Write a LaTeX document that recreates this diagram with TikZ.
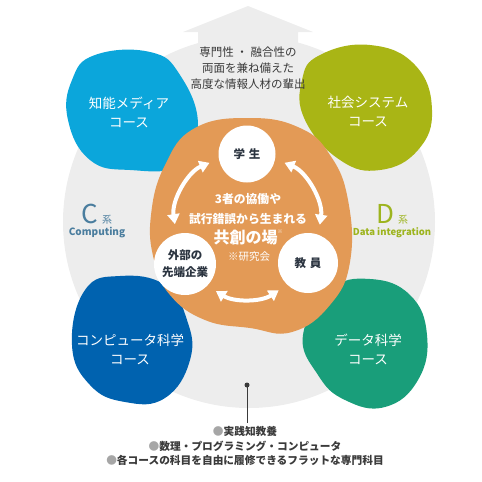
\documentclass[tikz,border=0pt]{standalone}
\usepackage{fontspec}
\setmainfont{Noto Sans CJK JP}
\usepackage{xcolor}
\usetikzlibrary{arrows.meta}
\definecolor{diskgray}{HTML}{EDEDED}
\definecolor{mediacyan}{HTML}{0BA6DB}
\definecolor{socolive}{HTML}{A9B515}
\definecolor{csblue}{HTML}{0062AF}
\definecolor{dsgreen}{HTML}{199E7A}
\definecolor{cocreate}{HTML}{E39A56}
\definecolor{cblue}{HTML}{4A7D9E}
\definecolor{dolive}{HTML}{9DB41E}
\definecolor{inkgray}{HTML}{3A3A3A}
\definecolor{inknavy}{HTML}{2B3440}

\begin{document}
\begin{tikzpicture}[x=1pt, y=-1pt,
    blob/.style={smooth cycle, tension=0.75},
    course/.style={text=white, align=center, font=\fontsize{13.5}{19}\selectfont},
    member/.style={circle, fill=white, text=inknavy, align=center, inner sep=0pt,
      font=\bfseries\fontsize{11.5}{17}\selectfont},
    dblarrow/.style={white, line width=4pt,
      {Triangle[width=12pt,length=10pt]}-{Triangle[width=12pt,length=10pt]},
      shorten <=10pt, shorten >=10pt},
    note/.style={text=inkgray, align=center}]

  \useasboundingbox (0,0) rectangle (482,482);

  % gray disk with the arrow on top
  \fill[diskgray] (249,222) circle (186pt);
  \fill[diskgray] (198,60) -- (198,32) -- (183,32) -- (248,6) -- (313,32)
    -- (298,32) -- (298,60) -- cycle;

  % the four courses
  \fill[mediacyan] plot[blob] coordinates {(95,55) (150,52) (180,75) (198,125)
    (180,165) (130,170) (90,160) (68,120) (72,80)};
  \fill[socolive] plot[blob] coordinates {(320,55) (370,45) (415,65) (432,110)
    (418,150) (380,170) (340,160) (305,120) (302,80)};
  \fill[csblue] plot[blob] coordinates {(85,290) (120,276) (165,285) (187,320)
    (190,360) (165,398) (125,402) (90,385) (72,345)};
  \fill[dsgreen] plot[blob] coordinates {(330,290) (370,279) (410,295) (427,335)
    (418,380) (385,407) (345,400) (318,375) (303,335)};

  \node[course] (media) at (129,112) {知能メディア\\コース};
  \node[course] (social) at (368,112) {社会システム\\コース};
  \node[course] (cs) at (130,349) {コンピュータ科学\\コース};
  \node[course] (ds) at (368,349) {データ科学\\コース};

  % co-creation field
  \fill[cocreate] plot[blob] coordinates {(250,118) (300,128) (330,155) (348,200)
    (350,262) (330,305) (292,332) (250,328) (205,320) (170,295) (154,260)
    (151,215) (165,165) (195,128)};

  \node[member, minimum size=57pt] (stu) at (247,154) {学\,\,生};
  \node[member, minimum size=62pt] (ext) at (185,264) {外部の\\先端企業};
  \node[member, minimum size=60pt] (tea) at (308,263) {教\,\,員};

  \draw[dblarrow] (stu.190) to[bend right=38] (ext.106);
  \draw[dblarrow] (ext.316) to[bend right=33] (tea.226);
  \draw[dblarrow] (tea.70) to[bend right=38] (stu.350);

  \node[text=white, font=\bfseries\fontsize{11.8}{20}\selectfont, align=center] (field)
    at (248,209) {3者の協働や\\試行錯誤から生まれる};
  \node[text=white, font=\bfseries\fontsize{16}{16}\selectfont] (fieldname) at (248,237)
    {共創の場\raisebox{1.1ex}{\fontsize{5}{5}\selectfont ※}};
  \node[text=white, font=\fontsize{10.5}{10.5}\selectfont] (lab) at (249,257) {※研究会};

  % outcome on top
  \node[note, font=\fontsize{11.5}{16}\selectfont] (outcome) at (248,68)
    {専門性 ・ 融合性の\\両面を兼ね備えた\\高度な情報人材の輩出};

  % C and D
  \node[text=cblue, font=\fontsize{26}{26}\selectfont] (csys) at (90,214) {C};
  \node[text=cblue, font=\fontsize{10}{10}\selectfont] (csyskei) at (107,220) {系};
  \node[text=cblue, font=\bfseries\fontsize{10}{10}\selectfont] (csysname) at (97,233) {Computing};
  \node[text=dolive, font=\fontsize{26}{26}\selectfont] (dsys) at (385,214) {D};
  \node[text=dolive, font=\fontsize{10}{10}\selectfont] (dsyskei) at (403,220) {系};
  \node[text=dolive, font=\bfseries\fontsize{9.5}{10}\selectfont] (dsysname) at (392,233) {Data integration};

  % common base
  \fill[inkgray] (247,385) circle (2.5pt);
  \coordinate (basetop) at (247,385);
  \coordinate (basebot) at (247,423);
  \draw[inkgray, line width=1pt] (basetop) -- (basebot);
  \node[note, font=\bfseries\fontsize{10.7}{14.5}\selectfont] (base) at (245,446)
    {{\color{gray!70}●}実践知教養\\{\color{gray!70}●}数理・プログラミング・コンピュータ\\{\color{gray!70}●}各コースの科目を自由に履修できるフラットな専門科目};

\end{tikzpicture}
\end{document}
